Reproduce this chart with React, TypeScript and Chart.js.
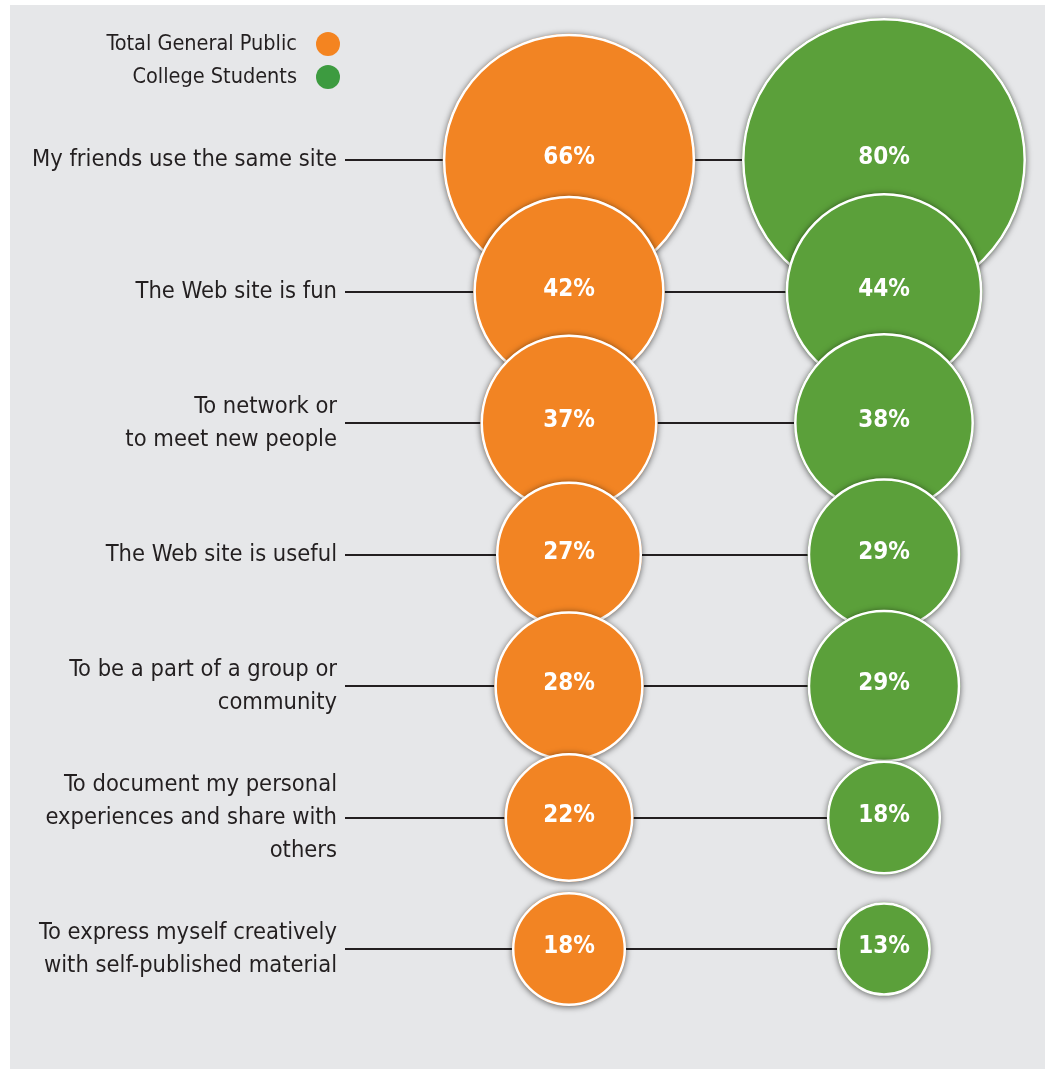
import { useEffect, useRef } from 'react';
import { Chart, registerables } from 'chart.js';

Chart.register(...registerables);

// ---- data ----
const categories = [
  'My friends use the same site',
  'The Web site is fun',
  'To network or\nto meet new people',
  'The Web site is useful',
  'To be a part of a group or\ncommunity',
  'To document my personal\nexperiences and share with\nothers',
  'To express myself creatively\nwith self-published material',
];
const seriesNames = ['Total General Public', 'College Students'];
const generalPublic = [66, 42, 37, 27, 28, 22, 18];
const collegeStudents = [80, 44, 38, 29, 29, 18, 13];

// ---- styles ----
const ORANGE = '#f28423';
const GREEN = '#5ba03a';
const LEGEND_COLORS = ['#f48420', '#3d9b40'];
const TEXT = '#231f20';
const BG = '#e6e7e9';
const LABEL_FONT = "'Liberation Sans Narrow', 'DejaVu Sans Condensed', sans-serif";
const VALUE_FONT = "'DejaVu Sans Condensed', 'Liberation Sans Narrow', sans-serif";

const W = 1035;
const H = 1064;
const Y_AXIS_WIDTH = 401.5;
const TICK_PAD = 74.5;
const LINE_GAP = 66.5;
const AREA_TOP = 89.25;
const AREA_BOTTOM = 1009.75;

const radiusOf = (v: number) => 9.3 * Math.pow(v, 0.62);

const seriesValues = [generalPublic, collegeStudents];

const shadowPlugin = {
  id: 'shadowedBubbles',
  beforeDatasetDraw(chart: any, args: any) {
    const { ctx } = chart;
    args.meta.data.forEach((el: any) => {
      const o = el.options;
      ctx.save();
      ctx.shadowColor = 'rgba(0,0,0,0.6)';
      ctx.shadowBlur = 6;
      ctx.shadowOffsetY = 1;
      ctx.fillStyle = o.backgroundColor;
      ctx.beginPath();
      ctx.arc(el.x, el.y, o.radius + o.borderWidth / 2, 0, Math.PI * 2);
      ctx.fill();
      ctx.restore();
      el.draw(ctx, chart.chartArea);
    });
    return false;
  },
};

const rowLinesPlugin = {
  id: 'rowLines',
  beforeDatasetsDraw(chart: any) {
    const { ctx } = chart;
    const x = chart.scales.x;
    const y = chart.scales.y;
    const x1 = y.right - LINE_GAP;
    const x2 = x.getPixelForValue(1);
    ctx.save();
    ctx.strokeStyle = TEXT;
    ctx.lineWidth = 2;
    categories.forEach((_, i) => {
      const py = Math.round(y.getPixelForValue(i));
      ctx.beginPath();
      ctx.moveTo(x1, py);
      ctx.lineTo(x2, py);
      ctx.stroke();
    });
    ctx.restore();
  },
};

const valueLabelsPlugin = {
  id: 'valueLabels',
  afterDatasetsDraw(chart: any) {
    const { ctx } = chart;
    ctx.save();
    ctx.fillStyle = '#ffffff';
    ctx.font = `bold 24px ${VALUE_FONT}`;
    ctx.textAlign = 'center';
    ctx.textBaseline = 'middle';
    chart.data.datasets.forEach((_: any, d: number) => {
      const meta = chart.getDatasetMeta(d);
      meta.data.forEach((el: any, i: number) => {
        ctx.fillText(`${seriesValues[d][i]}%`, el.x, el.y - 2);
      });
    });
    ctx.restore();
  },
};

const legendPlugin = {
  id: 'customLegend',
  afterDraw(chart: any) {
    const { ctx } = chart;
    ctx.save();
    ctx.font = `21.5px ${LABEL_FONT}`;
    ctx.textAlign = 'right';
    ctx.textBaseline = 'middle';
    seriesNames.forEach((name, i) => {
      const cy = 39 + i * 33;
      ctx.fillStyle = TEXT;
      ctx.fillText(name, 287, cy);
      ctx.fillStyle = LEGEND_COLORS[i];
      ctx.beginPath();
      ctx.arc(318, cy, 12, 0, Math.PI * 2);
      ctx.fill();
    });
    ctx.restore();
  },
};

export default function App() {
  const ref = useRef<HTMLCanvasElement | null>(null);

  useEffect(() => {
    if (!ref.current) return;
    const colors = [ORANGE, GREEN];
    const chart = new Chart(ref.current, {
      type: 'bubble',
      data: {
        datasets: seriesValues.map((vals, d) => ({
          label: seriesNames[d],
          data: vals.map((v, i) => ({ x: seriesNames[d], y: categories[i], r: radiusOf(v) })),
          backgroundColor: colors[d],
          hoverBackgroundColor: colors[d],
          borderColor: '#ffffff',
          hoverBorderColor: '#ffffff',
          borderWidth: 2.5,
          hoverBorderWidth: 2.5,
          clip: false,
        })),
      },
      options: {
        responsive: false,
        animation: false,
        events: [],
        layout: {
          autoPadding: false,
          padding: { left: 0, right: W - Y_AXIS_WIDTH - 630, top: AREA_TOP, bottom: H - AREA_BOTTOM },
        },
        plugins: {
          legend: { display: false },
          tooltip: { enabled: false },
        },
        scales: {
          x: {
            type: 'category',
            labels: seriesNames,
            offset: true,
            display: false,
          },
          y: {
            type: 'category',
            labels: categories,
            offset: true,
            grid: { display: false, drawTicks: false },
            border: { display: false },
            afterFit(scale: any) {
              scale.width = Y_AXIS_WIDTH;
              scale.paddingTop = 0;
              scale.paddingBottom = 0;
            },
            ticks: {
              autoSkip: false,
              padding: TICK_PAD,
              color: TEXT,
              font: { family: LABEL_FONT, size: 23.5, lineHeight: 1.4 },
              callback(this: any, value: any) {
                return String(this.getLabelForValue(value)).split('\n');
              },
            },
          },
        },
      } as any,
      plugins: [rowLinesPlugin, shadowPlugin, valueLabelsPlugin, legendPlugin],
    });
    return () => chart.destroy();
  }, []);

  return (
    <div style={{ position: 'absolute', left: 10, top: 5, width: W, height: H, background: BG }}>
      <canvas ref={ref} width={W} height={H} style={{ display: 'block', width: W, height: H }} />
    </div>
  );
}
